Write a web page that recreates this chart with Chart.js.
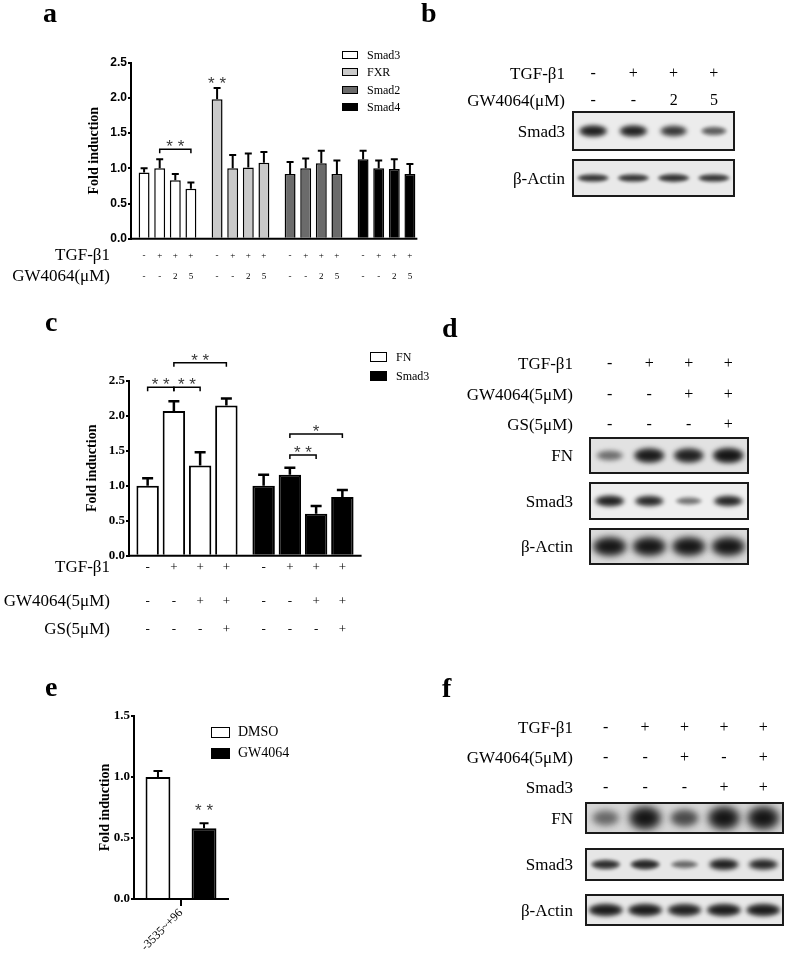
<!DOCTYPE html>
<html>
<head>
<meta charset="utf-8">
<script src="https://cdn.jsdelivr.net/npm/chart.js@4.4.1/dist/chart.umd.min.js"></script>
<style>
  html, body { margin: 0; padding: 0; background: #fff; }
  #page { position: relative; width: 787px; height: 954px; overflow: hidden; font-family: "Liberation Serif", serif; color: #000; }
  #page canvas { position: absolute; }
  .t { position: absolute; white-space: nowrap; }
  .key { position: absolute; border: 1.5px solid #000; box-sizing: border-box; }
</style>
</head>
<body>
<div id="page">
  <canvas id="chartA" style="left:0;top:30px" width="430" height="265"></canvas>
  <canvas id="chartC" style="left:0;top:300px" width="400" height="340"></canvas>
  <canvas id="chartE" style="left:0;top:640px" width="400" height="314"></canvas>
  <canvas id="blots" style="left:0;top:0" width="787" height="954"></canvas>
</div>
<script>
// ---- panel a : qPCR, 4 targets x 4 conditions
const groupsA  = ["Smad3", "FXR", "Smad2", "Smad4"];
const smad3A   = [0.94, 1.00, 0.83, 0.71];
const smad3ErrA = [0.06, 0.13, 0.09, 0.09];
const fxrA     = [1.98, 1.00, 1.01, 1.08];
const fxrErrA  = [0.16, 0.19, 0.20, 0.15];
const smad2A   = [0.92, 1.00, 1.07, 0.92];
const smad2ErrA = [0.17, 0.14, 0.18, 0.19];
const smad4A   = [1.13, 1.00, 0.99, 0.92];
const smad4ErrA = [0.12, 0.11, 0.14, 0.14];
const tgfA     = ["-", "+", "+", "+"];
const gwA      = ["-", "-", "2", "5"];
const ticksA   = [0, 0.5, 1.0, 1.5, 2.0, 2.5];

// ---- panel c : FN / Smad3
const groupsC  = ["FN", "Smad3"];
const fnC      = [1.00, 2.07, 1.29, 2.15];
const fnErrC   = [0.11, 0.14, 0.19, 0.10];
const smad3C   = [1.00, 1.16, 0.60, 0.84];
const smad3ErrC = [0.16, 0.10, 0.11, 0.10];
const tgfC     = ["-", "+", "+", "+"];
const gwC      = ["-", "-", "+", "+"];
const gsC      = ["-", "-", "-", "+"];
const ticksC   = [0, 0.5, 1.0, 1.5, 2.0, 2.5];

// ---- panel e : luciferase
const labelsE  = ["-3535~+96"];
const dmsoE    = [1.00];
const dmsoErrE = [0.05];
const gwE      = [0.58];
const gwErrE   = [0.04];
const ticksE   = [0, 0.5, 1.0, 1.5];

// ---- western blots (relative band strength per lane)
const tgfB = ["-", "+", "+", "+"];
const gwB  = ["-", "-", "2", "5"];
const bandB_Smad3 = [0.95, 0.92, 0.78, 0.55];
const bandB_Actin = [0.8, 0.8, 0.82, 0.8];

const tgfD = ["-", "+", "+", "+"];
const gwD  = ["-", "-", "+", "+"];
const gsD  = ["-", "-", "-", "+"];
const bandD_FN    = [0.45, 0.95, 0.9, 1.0];
const bandD_Smad3 = [0.95, 0.9, 0.45, 0.92];
const bandD_Actin = [1, 1, 1, 1];

const tgfF   = ["-", "+", "+", "+", "+"];
const gwF    = ["-", "-", "+", "-", "+"];
const smad3F = ["-", "-", "-", "+", "+"];
const bandF_FN    = [0.45, 1, 0.6, 1, 1];
const bandF_Smad3 = [0.8, 0.85, 0.5, 0.95, 0.9];
const bandF_Actin = [0.95, 0.95, 0.9, 0.95, 0.95];

const page = document.getElementById("page");

function addText(str, x, y, size, align, opts) {
  opts = opts || {};
  const d = document.createElement("div");
  d.className = "t";
  d.textContent = str;
  d.style.fontSize = size + "px";
  d.style.lineHeight = size + "px";
  d.style.top = (opts.baseline ? y - size * 0.84 : y - size * 0.5) + "px";
  if (align === "right") d.style.right = (787 - x) + "px";
  else if (align === "center") { d.style.left = x + "px"; d.style.transform = "translateX(-50%)"; }
  else d.style.left = x + "px";
  if (opts.bold) d.style.fontWeight = "bold";
  page.appendChild(d);
}
function addKey(x, y, w, h, fill) {
  const d = document.createElement("div");
  d.className = "key";
  Object.assign(d.style, { left: x + "px", top: y + "px", width: w + "px", height: h + "px", background: fill });
  page.appendChild(d);
}

function barAt(chart, g, k) { return chart.getDatasetMeta(k).data[g]; }

// error bars, brackets, stars and condition rows
function makeExtras(cfg) {
  return {
    id: "extras",
    afterDatasetsDraw(chart) {
      const ctx = chart.ctx, y = chart.scales.y, area = chart.chartArea;
      ctx.save();
      ctx.strokeStyle = "#000";
      ctx.lineWidth = cfg.errWidth;
      chart.data.datasets.forEach((ds, k) => {
        chart.getDatasetMeta(k).data.forEach((bar, g) => {
          const top = y.getPixelForValue(ds.data[g] + ds.errors[g]);
          ctx.beginPath();
          ctx.moveTo(bar.x, bar.y);
          ctx.lineTo(bar.x, top);
          ctx.moveTo(bar.x - cfg.capW / 2, top);
          ctx.lineTo(bar.x + cfg.capW / 2, top);
          ctx.stroke();
        });
      });
      if (cfg.axisExtra !== undefined) {
        let right = area.left;
        chart.data.datasets.forEach((ds, k) => chart.getDatasetMeta(k).data.forEach(b => { right = Math.max(right, b.x + b.width / 2); }));
        ctx.lineWidth = 2;
        ctx.beginPath();
        ctx.moveTo(area.left - 1, area.bottom);
        ctx.lineTo(right + cfg.axisExtra, area.bottom);
        ctx.stroke();
      }
      ctx.restore();
    },
    afterDraw(chart) {
      const ctx = chart.ctx, y = chart.scales.y;
      ctx.save();
      ctx.strokeStyle = "#000";
      ctx.lineWidth = 1.5;
      ctx.textAlign = "center";
      ctx.textBaseline = "middle";
      ctx.font = cfg.starFont;
      ctx.fillStyle = "#3a3a3a";
      (cfg.brackets || []).forEach(b => {
        const x1 = barAt(chart, b.g, b.from).x, x2 = barAt(chart, b.g, b.to).x;
        const yy = y.getPixelForValue(b.y);
        ctx.beginPath();
        ctx.moveTo(x1, yy + 4); ctx.lineTo(x1, yy); ctx.lineTo(x2, yy); ctx.lineTo(x2, yy + 4);
        ctx.stroke();
        ctx.fillText(b.label, (x1 + x2) / 2, yy - 2);
      });
      (cfg.stars || []).forEach(s => {
        const bar = barAt(chart, s.g, s.k);
        ctx.fillText(s.label, bar.x, y.getPixelForValue(s.y) + 4);
      });
      ctx.fillStyle = "#000";
      (cfg.rows || []).forEach(r => {
        ctx.font = cfg.rowFont;
        ctx.textAlign = "right";
        ctx.fillText(r.label, cfg.rowLabelX, r.y - cfg.top);
        ctx.font = cfg.symFont;
        ctx.textAlign = "center";
        chart.data.datasets.forEach((ds, k) => {
          chart.getDatasetMeta(k).data.forEach(bar => {
            ctx.fillText(r.vals[k], bar.x, r.y - cfg.top);
          });
        });
      });
      ctx.restore();
    }
  };
}

function yAxis(width, ticks, max, tickFont, titleSize) {
  return {
    min: 0, max: max,
    afterFit: s => { s.width = width; },
    afterBuildTicks: s => { s.ticks = ticks.map(v => ({ value: v })); },
    border: { color: "#000", width: 2 },
    grid: { drawOnChartArea: false, color: "#000", lineWidth: 2, tickLength: 3 },
    ticks: { color: "#000", padding: 1, font: tickFont, callback: v => Number(v).toFixed(1) },
    title: { display: true, text: "Fold induction", color: "#000", padding: { top: 0, bottom: 0 },
             font: { family: "Liberation Serif", weight: "bold", size: titleSize, lineHeight: 1 } }
  };
}

// ---------- panel a
const valuesA = [smad3A, fxrA, smad2A, smad4A];
const errorsA = [smad3ErrA, fxrErrA, smad2ErrA, smad4ErrA];
const colorsA = ["#ffffff", "#c9c9c9", "#6b6b6b", "#000000"];
new Chart(document.getElementById("chartA"), {
  type: "bar",
  data: {
    labels: groupsA,
    datasets: tgfA.map((_, k) => ({
      data: valuesA.map(r => r[k]),
      errors: errorsA.map(r => r[k]),
      backgroundColor: colorsA,
      borderColor: "#000", borderWidth: 1.5,
      categoryPercentage: 0.855, barPercentage: 0.70
    }))
  },
  options: {
    responsive: false, animation: false, events: [],
    layout: { padding: { left: 87, top: 32.7, right: 7, bottom: 56.3 } },
    plugins: { legend: { display: false }, tooltip: { enabled: false } },
    scales: {
      x: { display: false },
      y: yAxis(44, ticksA, 2.5, { family: "Liberation Sans", weight: "bold", size: 12 }, 14)
    }
  },
  plugins: [makeExtras({
    top: 30, errWidth: 2, capW: 7, axisExtra: 2,
    starFont: "17px 'Liberation Sans'",
    brackets: [{ g: 0, from: 1, to: 3, y: 1.27, label: "* *" }],
    stars: [{ g: 1, k: 0, y: 2.25, label: "* *" }],
    rowLabelX: 110, rowFont: "17px 'Liberation Serif'", symFont: "9px 'Liberation Serif'",
    rows: [{ label: "TGF-β1", y: 255.5, vals: tgfA }, { label: "GW4064(μM)", y: 277, vals: gwA }]
  })]
});

// ---------- panel c
const valuesC = [fnC, smad3C];
const errorsC = [fnErrC, smad3ErrC];
new Chart(document.getElementById("chartC"), {
  type: "bar",
  data: {
    labels: groupsC,
    datasets: tgfC.map((_, k) => ({
      data: valuesC.map(r => r[k]),
      errors: errorsC.map(r => r[k]),
      backgroundColor: ["#ffffff", "#000000"],
      borderColor: "#000", borderWidth: 2,
      categoryPercentage: 0.905, barPercentage: 0.855
    }))
  },
  options: {
    responsive: false, animation: false, events: [],
    layout: { padding: { left: 85, top: 81, right: 39, bottom: 84.3 } },
    plugins: { legend: { display: false }, tooltip: { enabled: false } },
    scales: {
      x: { display: false },
      y: yAxis(44, ticksC, 2.5, { family: "Liberation Serif", weight: "bold", size: 13 }, 14)
    }
  },
  plugins: [makeExtras({
    top: 300, errWidth: 2.5, capW: 11, axisExtra: 8,
    starFont: "17px 'Liberation Sans'",
    brackets: [
      { g: 0, from: 0, to: 1, y: 2.41, label: "* *" },
      { g: 0, from: 1, to: 2, y: 2.41, label: "* *" },
      { g: 0, from: 1, to: 3, y: 2.76, label: "* *" },
      { g: 1, from: 1, to: 3, y: 1.74, label: "*" },
      { g: 1, from: 1, to: 2, y: 1.44, label: "* *" }
    ],
    rowLabelX: 110, rowFont: "17px 'Liberation Serif'", symFont: "13px 'Liberation Serif'",
    rows: [
      { label: "TGF-β1", y: 568, vals: tgfC },
      { label: "GW4064(5μM)", y: 602, vals: gwC },
      { label: "GS(5μM)", y: 630, vals: gsC }
    ]
  })]
});

// ---------- panel e
new Chart(document.getElementById("chartE"), {
  type: "bar",
  data: {
    labels: labelsE,
    datasets: [
      { label: "DMSO", data: dmsoE, errors: dmsoErrE, backgroundColor: "#ffffff" },
      { label: "GW4064", data: gwE, errors: gwErrE, backgroundColor: "#000000" }
    ].map(d => Object.assign(d, { borderColor: "#000", borderWidth: 2, categoryPercentage: 0.98, barPercentage: 0.54 }))
  },
  options: {
    responsive: false, animation: false, events: [],
    layout: { padding: { left: 98, top: 76, right: 172, bottom: 0 } },
    plugins: { legend: { display: false }, tooltip: { enabled: false } },
    scales: {
      x: {
        afterFit: s => { s.height = 55; },
        border: { color: "#000", width: 2 },
        grid: { drawOnChartArea: false, offset: false, color: "#000", lineWidth: 2, tickLength: 7 },
        ticks: { color: "#000", minRotation: 45, maxRotation: 45, padding: 0, font: { family: "Liberation Serif", size: 12 } }
      },
      y: yAxis(36, ticksE, 1.5, { family: "Liberation Serif", weight: "bold", size: 13 }, 14)
    }
  },
  plugins: [makeExtras({
    top: 640, errWidth: 2, capW: 9,
    starFont: "17px 'Liberation Sans'",
    stars: [{ g: 0, k: 1, y: 0.75, label: "* *" }]
  })]
});

// ---------- blots
const bctx = document.getElementById("blots").getContext("2d");
function drawBlotRow(x0, x1, y0, y1, bands, bg, bandH, bandW) {
  const n = bands.length, lw = (x1 - x0) / n, cy = (y0 + y1) / 2;
  bctx.save();
  bctx.beginPath();
  bctx.rect(x0, y0, x1 - x0, y1 - y0);
  bctx.clip();
  bctx.fillStyle = bg;
  bctx.fillRect(x0, y0, x1 - x0, y1 - y0);
  bands.forEach((k, i) => {
    const cx = x0 + lw * (i + 0.5);
    const h = bandH * (0.45 + 0.55 * k), w = lw * bandW * (0.8 + 0.2 * k);
    bctx.filter = "blur(" + Math.max(1.5, h * 0.22) + "px)";
    bctx.fillStyle = "rgba(0,0,0," + (0.55 * k) + ")";
    bctx.beginPath(); bctx.ellipse(cx, cy, w / 2, h / 2 + 1.5, 0, 0, Math.PI * 2); bctx.fill();
    bctx.fillStyle = "rgba(0,0,0," + (0.8 * k) + ")";
    bctx.beginPath(); bctx.ellipse(cx, cy, w / 2 - 3, h / 2 - 1, 0, 0, Math.PI * 2); bctx.fill();
  });
  bctx.restore();
  bctx.strokeStyle = "#1a1a1a";
  bctx.lineWidth = 2;
  bctx.strokeRect(x0, y0, x1 - x0, y1 - y0);
}
function blotPanel(p) {
  const n = p.rows[0].vals.length, lw = (p.x1 - p.x0) / n;
  p.rows.forEach(r => {
    addText(r.label, p.labelX, r.y, 17, "right");
    r.vals.forEach((v, i) => addText(v, p.x0 + lw * (i + 0.5), r.y, 16, "center"));
  });
  p.blots.forEach(b => {
    drawBlotRow(p.x0, p.x1, b.y0, b.y1, b.bands, b.bg, b.h, b.w);
    addText(b.label, p.labelX, (b.y0 + b.y1) / 2, 17, "right");
  });
}
blotPanel({
  x0: 573, x1: 734, labelX: 565,
  rows: [{ label: "TGF-β1", y: 73, vals: tgfB }, { label: "GW4064(μM)", y: 100, vals: gwB }],
  blots: [
    { label: "Smad3", y0: 112, y1: 150, bands: bandB_Smad3, bg: "#ececec", h: 10, w: 0.72 },
    { label: "β-Actin", y0: 160, y1: 196, bands: bandB_Actin, bg: "#e9e9e9", h: 7, w: 0.82 }
  ]
});
blotPanel({
  x0: 590, x1: 748, labelX: 573,
  rows: [{ label: "TGF-β1", y: 363, vals: tgfD }, { label: "GW4064(5μM)", y: 394, vals: gwD }, { label: "GS(5μM)", y: 424, vals: gsD }],
  blots: [
    { label: "FN", y0: 438, y1: 473, bands: bandD_FN, bg: "#e2e2e2", h: 13, w: 0.8 },
    { label: "Smad3", y0: 483, y1: 519, bands: bandD_Smad3, bg: "#eeeeee", h: 9, w: 0.76 },
    { label: "β-Actin", y0: 529, y1: 564, bands: bandD_Actin, bg: "#dadada", h: 16, w: 0.86 }
  ]
});
blotPanel({
  x0: 586, x1: 783, labelX: 573,
  rows: [{ label: "TGF-β1", y: 727, vals: tgfF }, { label: "GW4064(5μM)", y: 757, vals: gwF }, { label: "Smad3", y: 787, vals: smad3F }],
  blots: [
    { label: "FN", y0: 803, y1: 833, bands: bandF_FN, bg: "#d6d6d6", h: 20, w: 0.82 },
    { label: "Smad3", y0: 849, y1: 880, bands: bandF_Smad3, bg: "#e6e6e6", h: 9, w: 0.78 },
    { label: "β-Actin", y0: 895, y1: 925, bands: bandF_Actin, bg: "#e8e8e8", h: 11, w: 0.9 }
  ]
});

// ---------- panel letters and legends
[["a", 43, 23], ["b", 421, 23], ["c", 45, 332], ["d", 442, 338], ["e", 45, 697], ["f", 442, 698]]
  .forEach(([s, x, y]) => addText(s, x, y, 28, "left", { baseline: true, bold: true }));

groupsA.forEach((g, i) => {
  const cy = [55, 72, 90, 107][i];
  addKey(342, cy - 4, 16, 8, colorsA[i]);
  addText(g, 367, cy, 12, "left");
});
groupsC.forEach((g, i) => {
  const cy = [357, 376][i];
  addKey(370, cy - 5, 17, 10, ["#ffffff", "#000000"][i]);
  addText(g, 396, cy, 12, "left");
});
["DMSO", "GW4064"].forEach((g, i) => {
  const cy = [732, 753][i];
  addKey(211, cy - 5.5, 19, 11, ["#ffffff", "#000000"][i]);
  addText(g, 238, cy, 14, "left");
});
</script>
</body>
</html>
